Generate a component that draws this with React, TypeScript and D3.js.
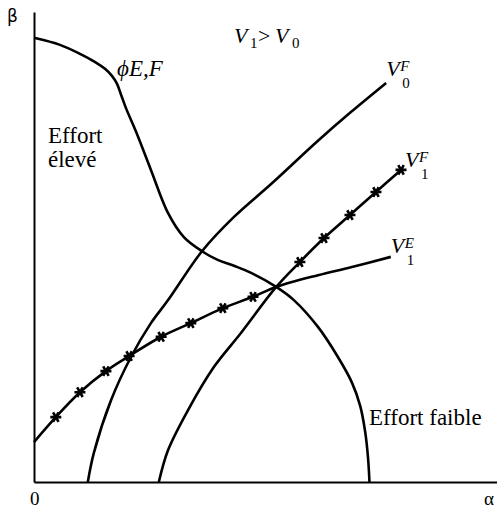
import React from "react";
import * as d3 from "d3";

// courbes, [alpha, beta]
const phiEF: [number, number][] = [
  [0, 9.45], [0.56, 9.3], [0.99, 9.11], [1.31, 8.94], [1.53, 8.79], [1.68, 8.64],
  [1.79, 8.47], [1.88, 8.23], [1.98, 7.96], [2.2, 7.45], [2.52, 6.64], [2.89, 5.72],
  [3.23, 5.21], [3.62, 4.91], [3.97, 4.72], [4.31, 4.6], [4.68, 4.45], [5.22, 4.15],
  [5.6, 3.87], [6.12, 3.3], [6.55, 2.66], [6.85, 2.12], [7.03, 1.62], [7.14, 1.05],
  [7.2, 0.5], [7.23, 0],
];
const v0F: [number, number][] = [
  [1.16, 0], [1.29, 0.62], [1.66, 1.74], [2.09, 2.66], [2.52, 3.38], [2.89, 3.87],
  [3.62, 4.91], [4.31, 5.64], [5.11, 6.34], [6.12, 7.26], [6.83, 7.87], [7.59, 8.49],
];
const v1E: [number, number][] = [
  [0, 0.85], [0.47, 1.38], [0.99, 1.91], [1.55, 2.36], [2.05, 2.68], [2.74, 3.09],
  [3.38, 3.38], [4.07, 3.7], [4.72, 3.94], [5.22, 4.15], [6.12, 4.4], [6.83, 4.57],
  [7.69, 4.79],
];
const v1F: [number, number][] = [
  [2.69, 0], [2.89, 0.68], [3.32, 1.53], [3.88, 2.45], [4.46, 3.17], [5.22, 4.15],
  [5.73, 4.68], [6.25, 5.19], [6.81, 5.68], [7.37, 6.17], [7.91, 6.64],
];
// étoiles sur l'enveloppe V1 = max(V1E, V1F)
const stars: [number, number][] = [
  [0.47, 1.38], [0.99, 1.91], [1.55, 2.36], [2.05, 2.68], [2.74, 3.09], [3.38, 3.38],
  [4.07, 3.7], [4.72, 3.94], [5.73, 4.68], [6.25, 5.19], [6.81, 5.68], [7.37, 6.17],
  [7.91, 6.64],
];

const serif = "'Liberation Serif', 'Times New Roman', serif";

const App = () => {
  const ref = React.useRef<SVGSVGElement>(null);

  React.useEffect(() => {
    const svg = d3.select(ref.current);
    svg.selectAll("*").remove();

    const x = d3.scaleLinear().domain([0, 10]).range([34, 498]);
    const y = d3.scaleLinear().domain([0, 10]).range([482, 12]);

    // axes sans graduations
    svg.append("g")
      .attr("transform", `translate(0,${y(0)})`)
      .call(d3.axisBottom(x).tickValues([]).tickSizeOuter(0))
      .select(".domain").attr("stroke-width", 2);
    svg.append("g")
      .attr("transform", `translate(${x(0)},0)`)
      .call(d3.axisLeft(y.copy().domain([0, 10.05])).tickValues([]).tickSizeOuter(0))
      .select(".domain").attr("stroke-width", 2);

    const line = d3.line<[number, number]>()
      .x(d => x(d[0])).y(d => y(d[1]))
      .curve(d3.curveCatmullRom.alpha(0.5));

    svg.append("g")
      .selectAll("path")
      .data([phiEF, v0F, v1E, v1F])
      .join("path")
      .attr("fill", "none")
      .attr("stroke", "black")
      .attr("stroke-width", 2.6)
      .attr("d", d => line(d));

    const star = d3.symbol().type(d3.symbolAsterisk).size(85);
    svg.append("g")
      .selectAll("path")
      .data(stars)
      .join("path")
      .attr("transform", d => `translate(${x(d[0])},${y(d[1])}) rotate(30)`)
      .attr("fill", "none")
      .attr("stroke", "black")
      .attr("stroke-width", 2.6)
      .attr("d", star);

    const txt = (s: string, tx: number, ty: number, size: number, italic = false) =>
      svg.append("text")
        .attr("x", tx).attr("y", ty)
        .attr("font-family", serif)
        .attr("font-size", size)
        .attr("font-style", italic ? "italic" : "normal")
        .text(s);

    // V indicée / exposant au bout d'une courbe
    const vLabel = (pts: [number, number][], sup: string, sub: string, dx: number, dy: number) => {
      const [ex, ey] = pts[pts.length - 1];
      const px = x(ex) + dx, py = y(ey) + dy;
      txt("V", px, py, 22, true);
      txt(sup, px + 14, py - 5, 15, true);
      txt(sub, px + 16, py + 12, 15);
    };
    vLabel(v0F, "F", "0", 0, -7);
    vLabel(v1F, "F", "1", 4, -3);
    vLabel(v1E, "E", "1", 0, -4);

    txt("V", 234, 43, 22, true);
    txt("1", 250, 48, 15);
    txt(">", 258, 43, 22);
    txt("V", 275, 43, 22, true);
    txt("0", 292, 48, 15);

    txt("ϕE,F", 117, 76, 23, true);
    txt("Effort", 48, 143, 23);
    txt("élevé", 48, 167, 23);
    txt("Effort faible", 369, 425, 23);

    svg.append("text")
      .attr("x", 7).attr("y", 22)
      .attr("font-family", "'DejaVu Sans', sans-serif")
      .attr("font-size", 17)
      .text("β");
    txt("0", 30, 505, 19);
    txt("α", 484, 505, 19);
  }, []);

  return (
    <svg
      ref={ref}
      width={497}
      height={509}
      style={{ position: "absolute", left: 0, top: 0, background: "white" }}
    />
  );
};

export default App;
